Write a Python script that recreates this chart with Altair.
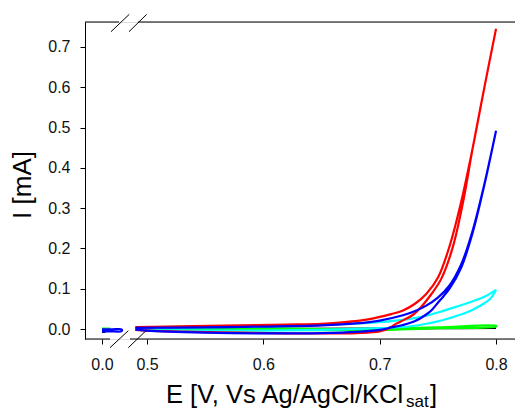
import altair as alt
import pandas as pd

# ---- data (E in V vs Ag/AgCl/KCl sat, I in mA) ----
red_fwd_E = [0.49, 0.54, 0.58, 0.62, 0.65, 0.67, 0.69, 0.70, 0.71, 0.72, 0.73, 0.74, 0.75, 0.76, 0.77, 0.78, 0.79, 0.80]
red_fwd_I = [0.005, 0.007, 0.009, 0.011, 0.013, 0.017, 0.024, 0.030, 0.037, 0.046, 0.062, 0.087, 0.127, 0.205, 0.315, 0.450, 0.600, 0.745]
red_rev_E = [0.80, 0.79, 0.78, 0.772, 0.763, 0.753, 0.744, 0.736, 0.729, 0.7204, 0.7147, 0.708, 0.70, 0.68, 0.65, 0.62, 0.58, 0.54, 0.50, 0.49]
red_rev_I = [0.745, 0.600, 0.450, 0.320, 0.205, 0.125, 0.085, 0.056, 0.036, 0.022, 0.014, 0.002, -0.006, -0.010, -0.011, -0.011, -0.009, -0.007, -0.004, -0.002]

blue_fwd_E = [0.49, 0.55, 0.60, 0.65, 0.68, 0.70, 0.72, 0.73, 0.74, 0.75, 0.76, 0.77, 0.78, 0.79, 0.80]
blue_fwd_I = [0.003, 0.004, 0.006, 0.009, 0.014, 0.021, 0.034, 0.044, 0.058, 0.078, 0.108, 0.160, 0.245, 0.360, 0.492]
blue_rev_E = [0.80, 0.79, 0.78, 0.77, 0.76, 0.755, 0.75, 0.745, 0.74, 0.73, 0.72, 0.71, 0.70, 0.68, 0.65, 0.60, 0.55, 0.50, 0.49]
blue_rev_I = [0.492, 0.358, 0.240, 0.152, 0.100, 0.082, 0.065, 0.048, 0.036, 0.019, 0.010, 0.004, -0.002, -0.007, -0.010, -0.011, -0.009, -0.004, -0.001]

cyan_fwd_E = [0.49, 0.55, 0.60, 0.65, 0.70, 0.72, 0.73, 0.74, 0.75, 0.76, 0.77, 0.78, 0.79, 0.80]
cyan_fwd_I = [0.002, 0.004, 0.006, 0.010, 0.017, 0.023, 0.027, 0.033, 0.041, 0.050, 0.059, 0.069, 0.080, 0.097]
cyan_rev_E = [0.80, 0.795, 0.79, 0.78, 0.77, 0.76, 0.75, 0.74, 0.73, 0.72, 0.70, 0.65, 0.60, 0.55, 0.49]
cyan_rev_I = [0.097, 0.075, 0.064, 0.048, 0.036, 0.027, 0.019, 0.013, 0.008, 0.005, 0.002, -0.002, -0.004, -0.004, -0.002]

green_fwd_E = [0.49, 0.55, 0.60, 0.65, 0.70, 0.75, 0.80]
green_fwd_I = [0.004, 0.006, 0.003, 0.000, 0.001, 0.004, 0.008]
green_rev_E = [0.80, 0.75, 0.70, 0.65, 0.60, 0.55, 0.49]
green_rev_I = [0.006, 0.002, -0.002, -0.003, -0.002, 0.000, 0.001]

black_fwd_E = [0.49, 0.60, 0.70, 0.75, 0.80]
black_fwd_I = [0.000, 0.000, 0.001, 0.002, 0.003]

# small excursions near 0 V
blue_low_E = [0.000, 0.008, 0.017, 0.017, 0.008, 0.000]
blue_low_I = [-0.001, -0.001, -0.001, -0.005, -0.006, -0.006]
green_low_E = [0.000, 0.007]
green_low_I = [0.001, 0.001]
black_low_E = [0.000, 0.003]
black_low_I = [-0.007, -0.007]

x_ticks = [0.0, 0.5, 0.6, 0.7, 0.8]
y_ticks = [0.0, 0.1, 0.2, 0.3, 0.4, 0.5, 0.6, 0.7]

series = [
    ("black", "#000000", [(black_fwd_E, black_fwd_I), (black_low_E, black_low_I)]),
    ("green", "#00FF00", [(green_fwd_E + green_rev_E, green_fwd_I + green_rev_I), (green_low_E, green_low_I)]),
    ("cyan", "#00FFFF", [(cyan_fwd_E + cyan_rev_E, cyan_fwd_I + cyan_rev_I)]),
    ("red", "#FF0000", [(red_fwd_E + red_rev_E, red_fwd_I + red_rev_I)]),
    ("blue", "#0000FF", [(blue_fwd_E + blue_rev_E, blue_fwd_I + blue_rev_I), (blue_low_E, blue_low_I)]),
]

W, H = 430, 317
FONT = "Liberation Sans"

xscale = alt.Scale(domain=[-0.0146, 0.018, 0.482, 0.8163], range=[0, 37.9, 41.1, 430], nice=False, zero=False)
yscale = alt.Scale(domain=[-0.0248, 0.7618], nice=False, zero=False)

layers = []
first = True
for name, color, segs in series:
    rows = []
    for si, (es, is_) in enumerate(segs):
        for k, (e, i) in enumerate(zip(es, is_)):
            rows.append({"E": e, "I": i, "seg": f"{name}{si}", "ord": k})
    df = pd.DataFrame(rows)
    if first:
        xenc = alt.X("E:Q", scale=xscale, axis=alt.Axis(values=x_ticks, format=".1f", title=None, domain=False,
                                                        tickSize=5, tickColor="black", labelFont=FONT,
                                                        labelFontSize=16, labelColor="#111", labelPadding=12,
                                                        grid=False))
        yenc = alt.Y("I:Q", scale=yscale, axis=alt.Axis(values=y_ticks, format=".1f", title=None, domain=True,
                                                        domainColor="black", tickSize=5, tickColor="black",
                                                        labelFont=FONT, labelFontSize=16, labelColor="#111",
                                                        labelPadding=10, grid=False))
        first = False
    else:
        xenc = alt.X("E:Q", scale=xscale)
        yenc = alt.Y("I:Q", scale=yscale)
    layers.append(
        alt.Chart(df).mark_line(strokeWidth=2.2, color=color, interpolate="catmull-rom").encode(
            x=xenc, y=yenc, detail="seg:N", order="ord:Q"
        )
    )

one = pd.DataFrame({"k": [0]})

def rule(x1, y1, x2, y2):
    return alt.Chart(one).mark_rule(color="black", strokeWidth=1).encode(
        x=alt.value(x1), y=alt.value(y1), x2=alt.value(x2), y2=alt.value(y2)
    )

# frame lines with axis breaks
decor = [
    rule(0, 0, 34, 0), rule(53, 0, W, 0),
    rule(0, H, 25, H), rule(45, H, W, H),
    rule(26, 9.7, 44.3, -7.7), rule(44, 9.7, 61.7, -7.7),
    rule(25, 325.7, 43.3, 308.7), rule(43.3, 325.7, 61, 308.7),
]

texts = pd.DataFrame({"t": ["I [mA]", "E [V, Vs Ag/AgCl/KCl", "sat", "]"]})

ytitle = alt.Chart(texts[texts.t == "I [mA]"]).mark_text(
    font=FONT, fontSize=26, angle=270, align="center", baseline="middle", color="black"
).encode(text="t:N", x=alt.value(-62), y=alt.value(163))
xt1 = alt.Chart(texts[texts.t == "E [V, Vs Ag/AgCl/KCl"]).mark_text(
    font=FONT, fontSize=25.5, align="left", baseline="alphabetic", color="black"
).encode(text="t:N", x=alt.value(81), y=alt.value(381))
xt2 = alt.Chart(texts[texts.t == "sat"]).mark_text(
    font=FONT, fontSize=17, align="left", baseline="alphabetic", color="black"
).encode(text="t:N", x=alt.value(321), y=alt.value(385))
xt3 = alt.Chart(texts[texts.t == "]"]).mark_text(
    font=FONT, fontSize=25.5, align="left", baseline="alphabetic", color="black"
).encode(text="t:N", x=alt.value(345), y=alt.value(381))

chart = alt.layer(*layers, *decor, ytitle, xt1, xt2, xt3).properties(
    width=W, height=H,
    autosize=alt.AutoSizeParams(type="none"),
    padding={"left": 85, "top": 22, "right": 0, "bottom": 72},
).configure_view(stroke=None).configure(background="white")

chart.save("out.html", embed_options={"renderer": "svg", "actions": False})
